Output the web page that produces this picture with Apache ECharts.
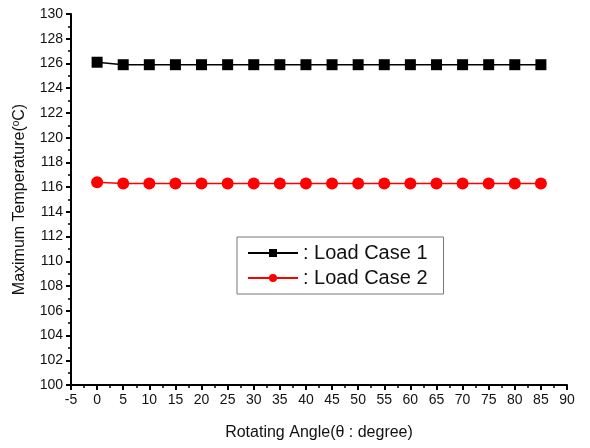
<!DOCTYPE html>
<html><head><meta charset="utf-8">
<script src="https://cdn.jsdelivr.net/npm/echarts@6/dist/echarts.min.js"></script>
<style>html,body{margin:0;padding:0;background:#fff}#c{width:590px;height:448px}</style>
</head><body><div id="c"></div>
<script>
const angles = [0,5,10,15,20,25,30,35,40,45,50,55,60,65,70,75,80,85];
const loadCase1 = [126.1,125.9,125.9,125.9,125.9,125.9,125.9,125.9,125.9,125.9,125.9,125.9,125.9,125.9,125.9,125.9,125.9,125.9];
const loadCase2 = [116.4,116.3,116.3,116.3,116.3,116.3,116.3,116.3,116.3,116.3,116.3,116.3,116.3,116.3,116.3,116.3,116.3,116.3];
const seriesNames = ['Load Case 1','Load Case 2'];

const chart = echarts.init(document.getElementById('c'));
const font = 'Liberation Sans, Arial, sans-serif';
chart.setOption({
  animation:false,
  grid:{left:71,right:23,top:14,bottom:63},
  legend:{
    left:237, top:237, orient:'vertical',
    padding:[6,16,6,10], itemGap:5,
    borderColor:'#777', borderWidth:1,
    itemWidth:50, itemHeight:10,
    formatter: n => ': ' + n,
    textStyle:{fontFamily:font,fontSize:20,color:'#111'},
    data: seriesNames
  },
  xAxis:{
    type:'value', min:-5, max:90, interval:5,
    name:'Rotating Angle(θ : degree)', nameLocation:'middle', nameGap:40,
    nameTextStyle:{fontFamily:font,fontSize:16,color:'#111'},
    axisLine:{onZero:false,lineStyle:{color:'#000',width:2}},
    axisTick:{show:true,length:5,lineStyle:{color:'#000',width:2}},
    minorTick:{show:true,splitNumber:2,length:3,lineStyle:{color:'#000',width:1.5}},
    splitLine:{show:false},
    axisLabel:{fontFamily:font,fontSize:14,color:'#111',margin:8}
  },
  yAxis:{
    type:'value', min:100, max:130, interval:2,
    name:'{a|Maximum Temperature(}{s|o}{a|C)}', nameLocation:'middle', nameGap:42,
    nameTextStyle:{rich:{a:{fontFamily:font,fontSize:16,color:'#111'},s:{fontFamily:font,fontSize:10,color:'#111',verticalAlign:'top',padding:[0,0,8,0]}}},
    axisLine:{show:true,onZero:false,lineStyle:{color:'#000',width:2}},
    axisTick:{show:true,length:5,lineStyle:{color:'#000',width:2}},
    minorTick:{show:true,splitNumber:2,length:3,lineStyle:{color:'#000',width:1.5}},
    splitLine:{show:false},
    axisLabel:{fontFamily:font,fontSize:14,color:'#111',margin:8}
  },
  series:[
    {name:seriesNames[0],type:'line',data:angles.map((a,i)=>[a,loadCase1[i]]),
     symbol:'rect',symbolSize:11,itemStyle:{color:'#000'},lineStyle:{color:'#000',width:1.5}},
    {name:seriesNames[1],type:'line',data:angles.map((a,i)=>[a,loadCase2[i]]),
     symbol:'circle',symbolSize:12,itemStyle:{color:'#f00'},lineStyle:{color:'#f00',width:1.5}}
  ]
});
</script></body></html>
